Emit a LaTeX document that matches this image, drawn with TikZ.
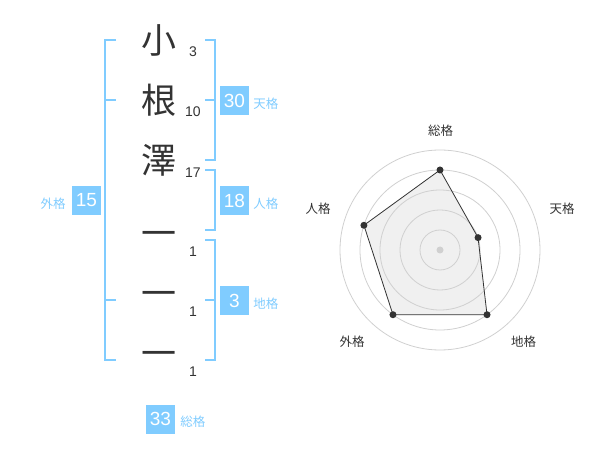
\documentclass[tikz,border=0pt]{standalone}
\usepackage{fontspec}
\setmainfont{Liberation Sans}
\newfontfamily\jp{Noto Sans CJK JP}
\usetikzlibrary{positioning}
\definecolor{kaku}{HTML}{80CCFF}
\definecolor{ink}{HTML}{333333}
\definecolor{ring}{HTML}{D0D0D0}

\begin{document}
\begin{tikzpicture}[x=1pt, y=-1pt,
    kanji/.style = {font=\jp\fontsize{35}{35}\selectfont, text=ink, inner sep=0pt},
    strokes/.style = {font=\fontsize{14}{14}\selectfont, text=ink, inner sep=0pt},
    score/.style = {fill=kaku, text=white, minimum size=29pt, inner sep=0pt,
      font=\fontsize{19}{19}\selectfont},
    kakuname/.style = {font=\jp\fontsize{12.5}{12.5}\selectfont, text=kaku, inner sep=0pt},
    axisname/.style = {font=\jp\fontsize{12.5}{12.5}\selectfont, text=ink, inner sep=0pt},
    brace/.style = {draw=kaku, line width=1.8pt},
    dot/.style = {circle, fill=ink, inner sep=0pt, minimum size=7pt}]
  \useasboundingbox (0,0) rectangle (600,470);

  % name and stroke counts
  \node[kanji] (k1) at (159,40) {小};
  \node[kanji] (k2) at (159,100) {根};
  \node[kanji] (k3) at (159,160) {澤};
  \node[kanji] (k4) at (159,239) {一};
  \node[kanji] (k5) at (159,299) {一};
  \node[kanji] (k6) at (159,359) {一};
  \node[strokes] (s1) at (193,52) {3};
  \node[strokes] (s2) at (193,112) {10};
  \node[strokes] (s3) at (193,173) {17};
  \node[strokes] (s4) at (193,252) {1};
  \node[strokes] (s5) at (193,312) {1};
  \node[strokes] (s6) at (193,372) {1};

  % brackets
  \draw[brace] (116,40) -- (105,40) -- (105,360) -- (116,360);
  \draw[brace] (105,100) -- (116,100);
  \draw[brace] (105,300) -- (116,300);
  \draw[brace] (205,40) -- (215,40) -- (215,160) -- (205,160);
  \draw[brace] (215,100) -- (205,100);
  \draw[brace] (205,170) -- (215,170) -- (215,230) -- (205,230);
  \draw[brace] (205,240) -- (215,240) -- (215,360) -- (205,360);
  \draw[brace] (215,300) -- (205,300);

  % scores
  \node[score] (ten) at (234.5,100.5) {30};
  \node[score] (jin) at (234.5,200.5) {18};
  \node[score] (chi) at (234.5,300.5) {3};
  \node[score] (gai) at (86.5,200.5) {15};
  \node[score] (sou) at (160.5,419) {33};
  \node[kakuname, right=4pt of ten, yshift=-3pt] {天格};
  \node[kakuname, right=4pt of jin, yshift=-3pt] {人格};
  \node[kakuname, right=4pt of chi, yshift=-3pt] {地格};
  \node[kakuname, left=6pt of gai, yshift=-3pt] {外格};
  \node[kakuname, right=5pt of sou, yshift=-3pt] {総格};

  % radar
  \coordinate (c) at (440,250);
  \coordinate (p1) at ([shift={(90:80pt)}]c);
  \coordinate (p2) at ([shift={(18:40pt)}]c);
  \coordinate (p3) at ([shift={(-54:80pt)}]c);
  \coordinate (p4) at ([shift={(-126:80pt)}]c);
  \coordinate (p5) at ([shift={(162:80pt)}]c);
  \fill[black!6] (p1) -- (p2) -- (p3) -- (p4) -- (p5) -- cycle;
  \foreach \r in {20,40,60,80,100}
    \draw[ring, line width=0.8pt] (c) circle (\r pt);
  \fill[ring] (c) circle (3.5pt);
  \draw[ink, line width=0.8pt] (p1) -- (p2) -- (p3) -- (p4) -- (p5) -- cycle;
  \foreach \p in {p1,p2,p3,p4,p5}
    \node[dot] at (\p) {};
  \node[axisname] (a1) at (440.5,130.5) {総格};
  \node[axisname] (a2) at (562,208.5) {天格};
  \node[axisname] (a3) at (523.5,342) {地格};
  \node[axisname] (a4) at (352,342) {外格};
  \node[axisname] (a5) at (318,208.5) {人格};
\end{tikzpicture}
\end{document}
